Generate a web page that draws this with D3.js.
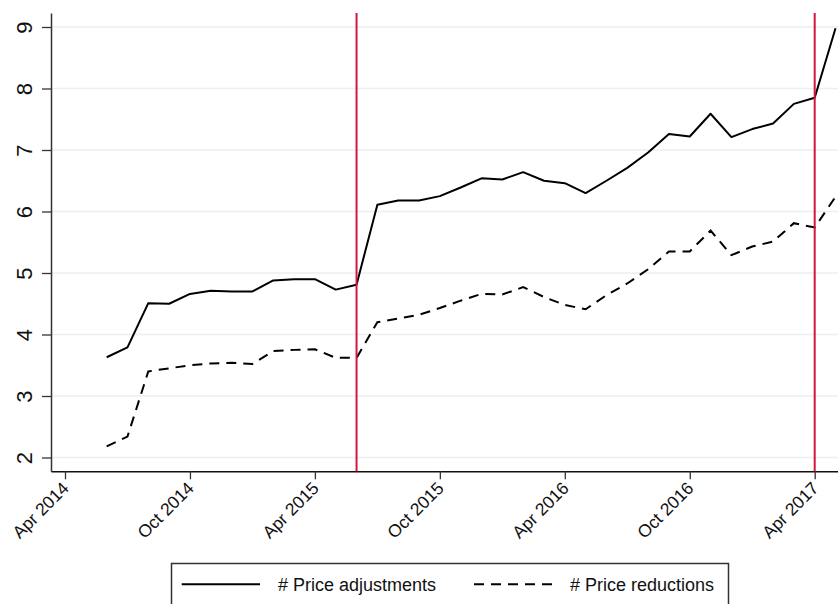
<!DOCTYPE html>
<html><head><meta charset="utf-8">
<script src="https://cdn.jsdelivr.net/npm/d3@7"></script>
<style>
body{margin:0;background:#fff}
svg{display:block;font-family:"Liberation Sans",Arial,Helvetica,sans-serif}
</style>
</head><body><svg id="c" width="838" height="604"></svg>
<script>
const months = ["2014-06","2014-07","2014-08","2014-09","2014-10","2014-11","2014-12",
  "2015-01","2015-02","2015-03","2015-04","2015-05","2015-06","2015-07","2015-08","2015-09","2015-10","2015-11","2015-12",
  "2016-01","2016-02","2016-03","2016-04","2016-05","2016-06","2016-07","2016-08","2016-09","2016-10","2016-11","2016-12",
  "2017-01","2017-02","2017-03","2017-04","2017-05"];
const adjustments = [3.63,3.79,4.51,4.50,4.66,4.71,4.70,
  4.70,4.88,4.90,4.90,4.73,4.81,6.11,6.18,6.18,6.25,6.39,6.54,
  6.52,6.64,6.50,6.46,6.30,6.50,6.71,6.96,7.26,7.22,7.59,7.21,
  7.34,7.43,7.75,7.85,8.98];
const reductions = [2.18,2.34,3.40,3.45,3.50,3.53,3.54,
  3.52,3.73,3.75,3.76,3.62,3.62,4.20,4.26,4.32,4.43,4.55,4.66,
  4.65,4.77,4.61,4.48,4.41,4.64,4.83,5.06,5.35,5.35,5.69,5.29,
  5.43,5.51,5.81,5.74,6.24];
const yTicks = [2,3,4,5,6,7,8,9];
const xTickMonths = ["2014-04","2014-10","2015-04","2015-10","2016-04","2016-10","2017-04"];
const xTickLabels = ["Apr 2014","Oct 2014","Apr 2015","Oct 2015","Apr 2016","Oct 2016","Apr 2017"];
const eventMonths = ["2015-06","2017-04"];
const seriesNames = ["# Price adjustments","# Price reductions"];

function mi(s){const p=s.split("-").map(Number);return (p[0]-2014)*12+(p[1]-4);}

const svg = d3.select("#c");
const L=51, R=838, T=13, B=471.3;

const x0 = d3.scaleLinear().domain([0,36]).range([65,814.7]);
const x = d3.scaleLinear().domain([x0.invert(L), x0.invert(R)]).range([L,R]);
const y0 = d3.scaleLinear().domain([2,9]).range([457.5,27]);
const y = d3.scaleLinear().domain([y0.invert(B), y0.invert(T)]).range([B,T]);

// gridlines
svg.append("g").selectAll("line").data(yTicks).join("line")
  .attr("x1",L).attr("x2",R).attr("y1",d=>y(d)).attr("y2",d=>y(d))
  .attr("stroke","#e9f0f3").attr("stroke-width",1.6);

// y axis
const gy = svg.append("g").attr("transform",`translate(${L},0)`)
  .call(d3.axisLeft(y).tickValues(yTicks).tickFormat(d3.format("d")).tickSize(9).tickSizeOuter(0));
gy.select(".domain").attr("stroke","#333").attr("stroke-width",1.5);
gy.selectAll(".tick line").attr("stroke","#333").attr("stroke-width",1.3);
gy.selectAll(".tick text").attr("x",0).attr("y",0).attr("dy",null)
  .attr("transform","translate(-19,0) rotate(-90)").attr("text-anchor","middle")
  .attr("font-size",22).attr("fill","#111").attr("font-family",null);

// x axis
const gx = svg.append("g").attr("transform",`translate(0,${B})`)
  .call(d3.axisBottom(x).tickValues(xTickMonths.map(mi)).tickFormat((d,i)=>xTickLabels[i]).tickSize(8).tickSizeOuter(0));
gx.select(".domain").attr("stroke","#111").attr("stroke-width",1.5);
gx.selectAll(".tick line").attr("stroke","#333").attr("stroke-width",1.3);
gx.selectAll(".tick text").attr("x",0).attr("y",0).attr("dy",null)
  .attr("transform","translate(4.5,18) rotate(-45)").attr("text-anchor","end")
  .attr("font-size",17.5).attr("fill","#111").attr("font-family",null);

// data lines
const line = d3.line().x(d=>x(mi(d.m))).y(d=>y(d.v));
const s1 = months.map((m,i)=>({m,v:adjustments[i]}));
const s2 = months.map((m,i)=>({m,v:reductions[i]}));
svg.append("path").datum(s1).attr("d",line).attr("fill","none")
  .attr("stroke","#000").attr("stroke-width",2).attr("stroke-linejoin","round");
svg.append("path").datum(s2).attr("d",line).attr("fill","none")
  .attr("stroke","#000").attr("stroke-width",2).attr("stroke-dasharray","10,7");

// event lines
svg.append("g").selectAll("line").data(eventMonths).join("line")
  .attr("x1",d=>x(mi(d))).attr("x2",d=>x(mi(d))).attr("y1",T).attr("y2",B)
  .attr("stroke","#d4163f").attr("stroke-width",2);

// legend
const lg = svg.append("g");
lg.append("rect").attr("x",171.5).attr("y",563.5).attr("width",557).attr("height",60)
  .attr("fill","#fff").attr("stroke","#333").attr("stroke-width",1.5);
const items = [{x1:181.7,x2:260,tx:278,dash:null},{x1:474,x2:557,tx:570,dash:"10,7"}];
items.forEach((it,i)=>{
  lg.append("line").attr("x1",it.x1).attr("x2",it.x2).attr("y1",584.3).attr("y2",584.3)
    .attr("stroke","#000").attr("stroke-width",2).attr("stroke-dasharray",it.dash);
  lg.append("text").attr("x",it.tx).attr("y",590.6).attr("font-size",18).attr("fill","#111")
    .text(seriesNames[i]);
});
</script>
</body></html>
